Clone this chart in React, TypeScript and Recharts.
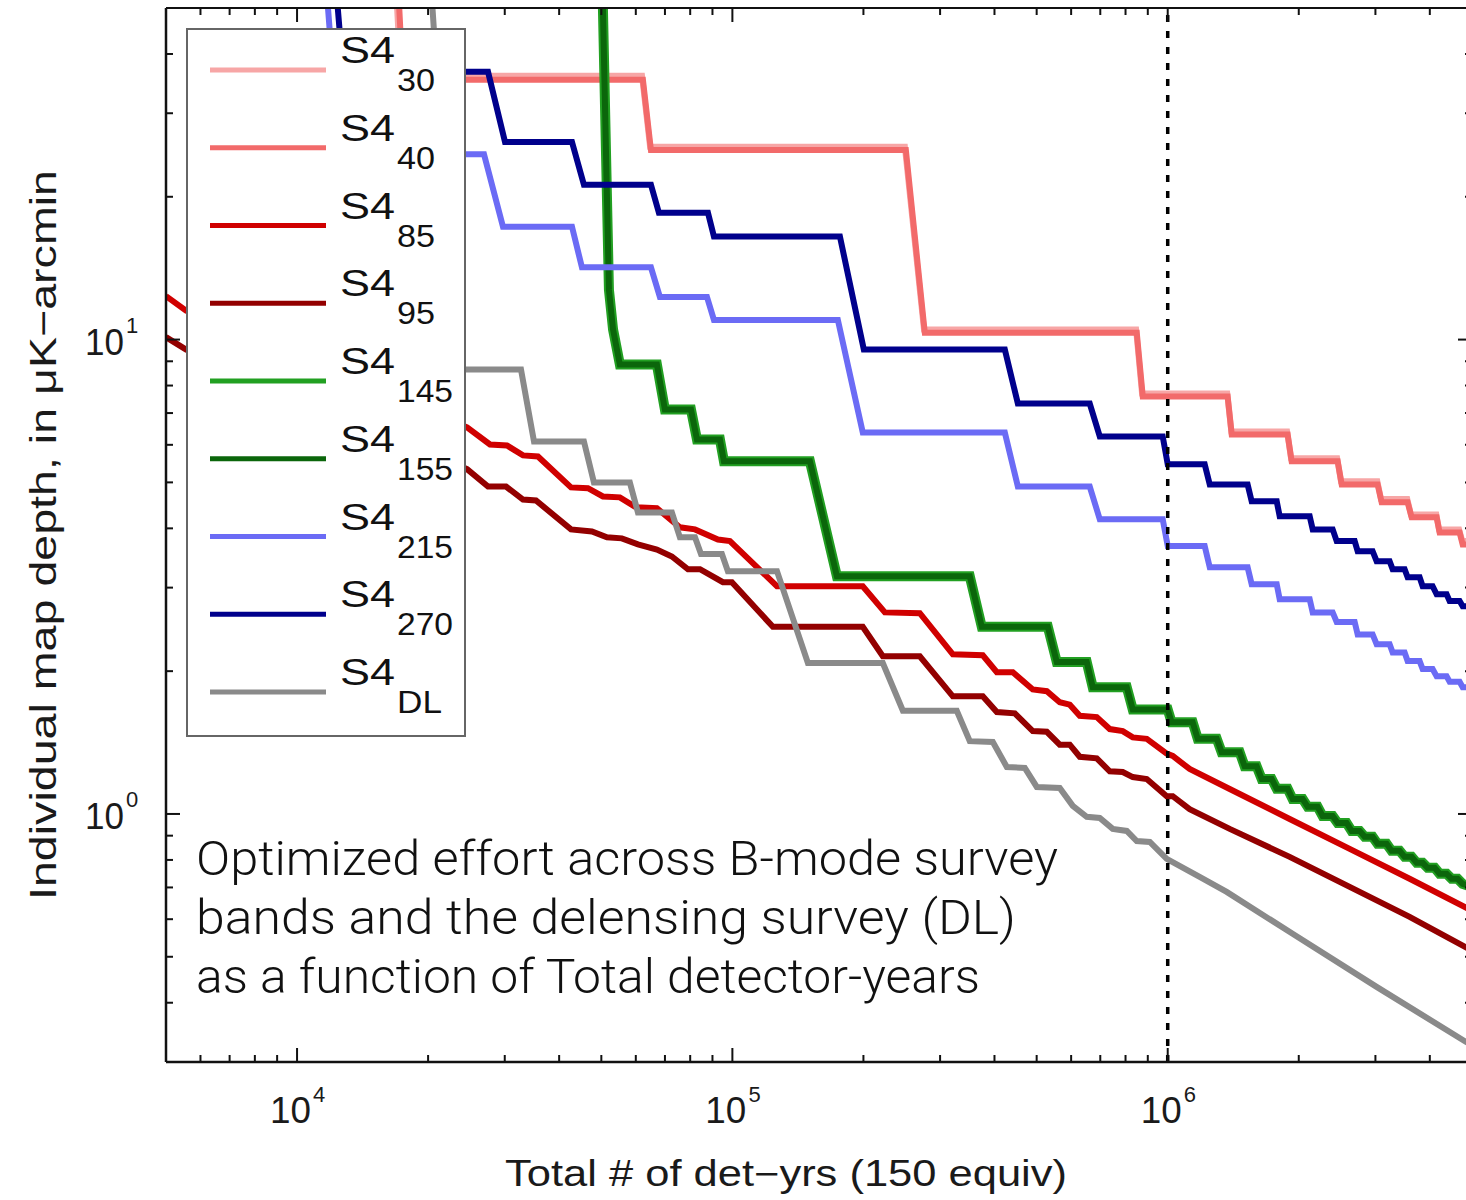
import { Legend, Line, LineChart, ReferenceLine, XAxis, YAxis } from 'recharts'

type Pt = [number, number]

// x = total det-yrs, y = map depth (uK-arcmin)
const s4_30: Pt[] = [
  [16800, 60], [17300, 36], [62000, 36], [64700, 25.5], [249000, 25.5], [275500, 10.5],
  [846000, 10.5], [873000, 7.7], [1.37e6, 7.7], [1.4e6, 6.4], [1.88e6, 6.4], [1.92e6, 5.62],
  [2.45e6, 5.62], [2.5e6, 5.03], [3.03e6, 5.03], [3.09e6, 4.61], [3.55e6, 4.61], [3.62e6, 4.28],
  [4.14e6, 4.28], [4.2e6, 3.98], [4.67e6, 3.98], [4.75e6, 3.76], [5e6, 3.76],
]

const s4_40: Pt[] = [
  [17000, 60], [17500, 35.3], [62300, 35.3], [65000, 25.1], [250300, 25.1], [276700, 10.34],
  [849000, 10.34], [876400, 7.59], [1.373e6, 7.59], [1.403e6, 6.31], [1.886e6, 6.31], [1.926e6, 5.54],
  [2.457e6, 5.54], [2.51e6, 4.95], [3.035e6, 4.95], [3.1e6, 4.54], [3.557e6, 4.54], [3.633e6, 4.22],
  [4.147e6, 4.22], [4.213e6, 3.92], [4.683e6, 3.92], [4.759e6, 3.7], [5e6, 3.7],
]

const s4_85: Pt[] = [
  [5000, 12.35], [5560, 11.51], [24580, 6.53], [27750, 6.01], [30360, 5.98], [33040, 5.7],
  [35760, 5.67], [42590, 4.88], [46580, 4.86], [50420, 4.67], [55150, 4.65], [60040, 4.43],
  [67080, 4.41], [75760, 4.02], [82050, 3.98], [92640, 3.79], [98700, 3.76], [126600, 3.02],
  [199300, 3.02], [224000, 2.66], [269500, 2.65], [320900, 2.17], [376000, 2.16], [405000, 1.99],
  [440800, 1.99], [489800, 1.83], [527600, 1.815], [564900, 1.72], [595700, 1.7], [628000, 1.61],
  [687100, 1.6], [735900, 1.51], [788300, 1.495], [831200, 1.45], [895200, 1.44], [994700, 1.34],
  [1.027e6, 1.325], [1.123e6, 1.244], [1.388e6, 1.129], [1.906e6, 0.976], [2.618e6, 0.844],
  [3.595e6, 0.73], [5e6, 0.625],
]

const s4_95: Pt[] = [
  [5000, 10.12], [5560, 9.53], [24580, 5.33], [27460, 4.9], [30200, 4.9], [33040, 4.6],
  [35390, 4.58], [42590, 3.98], [47570, 3.94], [51500, 3.83], [55740, 3.81], [60680, 3.7],
  [67080, 3.61], [72620, 3.49], [79070, 3.28], [84250, 3.28], [95110, 3.08], [99750, 3.08],
  [123900, 2.48], [199300, 2.48], [221600, 2.15], [269500, 2.15], [320900, 1.77], [376000, 1.77],
  [405000, 1.64], [445500, 1.63], [489800, 1.495], [527600, 1.49], [564900, 1.4], [595700, 1.4],
  [628000, 1.32], [687100, 1.31], [735900, 1.23], [788300, 1.226], [831200, 1.196], [895200, 1.185],
  [994700, 1.09], [1.027e6, 1.09], [1.123e6, 1.024], [1.388e6, 0.93], [1.906e6, 0.812],
  [2.618e6, 0.702], [3.595e6, 0.607], [5e6, 0.515],
]

// 145 and 155 sit on top of each other in the plot, read as one trace
const s4_145_155: Pt[] = [
  [50000, 60], [50420, 50], [52050, 12.74], [53200, 10.5], [55150, 8.86], [67080, 8.86],
  [69980, 7.12], [80330, 7.12], [82920, 6.16], [93620, 6.16], [95620, 5.54], [150700, 5.54],
  [173800, 3.17], [351000, 3.17], [374000, 2.48], [530400, 2.48], [556100, 2.09], [651600, 2.09],
  [672600, 1.85], [805200, 1.85], [831200, 1.66], [1e6, 1.66], [1.021e6, 1.56], [1.141e6, 1.56],
  [1.172e6, 1.44], [1.296e6, 1.44], [1.33e6, 1.35], [1.463e6, 1.35], [1.502e6, 1.26], [1.601e6, 1.26],
  [1.644e6, 1.185], [1.733e6, 1.185], [1.78e6, 1.13], [1.886e6, 1.13], [1.936e6, 1.075], [2.042e6, 1.075],
  [2.097e6, 1.035], [2.21e6, 1.035], [2.269e6, 0.99], [2.393e6, 0.99], [2.457e6, 0.957], [2.576e6, 0.957],
  [2.645e6, 0.921], [2.76e6, 0.921], [2.834e6, 0.895], [2.956e6, 0.895], [3.035e6, 0.865], [3.183e6, 0.865],
  [3.268e6, 0.836], [3.41e6, 0.836], [3.501e6, 0.812], [3.633e6, 0.812], [3.731e6, 0.789], [3.851e6, 0.789],
  [3.954e6, 0.77], [4.104e6, 0.77], [4.213e6, 0.748], [4.372e6, 0.748], [4.489e6, 0.73], [4.634e6, 0.73],
  [4.759e6, 0.712], [5e6, 0.702],
]

const s4_215: Pt[] = [
  [11600, 60], [12000, 40], [14000, 24.6], [26880, 24.6], [29720, 17.3], [42810, 17.3],
  [45120, 14.2], [65000, 14.2], [68150, 12.3], [87420, 12.3], [90700, 11.0], [174700, 11.0],
  [199300, 6.37], [422500, 6.37], [452600, 4.9], [662000, 4.9], [698100, 4.18], [973900, 4.18],
  [1e6, 3.67], [1.216e6, 3.67], [1.249e6, 3.31], [1.526e6, 3.31], [1.559e6, 3.05], [1.78e6, 3.05],
  [1.808e6, 2.835], [2.119e6, 2.835], [2.153e6, 2.66], [2.393e6, 2.66], [2.444e6, 2.54], [2.688e6, 2.54],
  [2.731e6, 2.39], [2.956e6, 2.39], [3.019e6, 2.28], [3.234e6, 2.28], [3.286e6, 2.19], [3.501e6, 2.19],
  [3.557e6, 2.1], [3.79e6, 2.1], [3.851e6, 2.02], [4.06e6, 2.02], [4.147e6, 1.95], [4.372e6, 1.95],
  [4.442e6, 1.9], [4.683e6, 1.9], [4.759e6, 1.85], [5e6, 1.85],
]

const s4_270: Pt[] = [
  [12200, 60], [12600, 42], [15000, 36.7], [27460, 36.7], [30040, 26.1], [42810, 26.1],
  [45600, 21.2], [65000, 21.2], [67800, 18.5], [87880, 18.5], [90700, 16.5], [176600, 16.5],
  [200400, 9.53], [422500, 9.53], [452600, 7.33], [662000, 7.33], [698100, 6.25], [973900, 6.25],
  [1e6, 5.46], [1.216e6, 5.46], [1.249e6, 4.95], [1.526e6, 4.95], [1.559e6, 4.56], [1.78e6, 4.56],
  [1.808e6, 4.24], [2.119e6, 4.24], [2.153e6, 3.98], [2.393e6, 3.98], [2.444e6, 3.76], [2.688e6, 3.76],
  [2.731e6, 3.58], [2.956e6, 3.58], [3.019e6, 3.41], [3.234e6, 3.41], [3.286e6, 3.28], [3.501e6, 3.28],
  [3.557e6, 3.155], [3.79e6, 3.155], [3.851e6, 3.02], [4.06e6, 3.02], [4.147e6, 2.905], [4.372e6, 2.905],
  [4.442e6, 2.81], [4.683e6, 2.81], [4.759e6, 2.74], [5e6, 2.74],
]

const s4_DL: Pt[] = [
  [20200, 60], [20800, 40], [22000, 8.65], [32690, 8.65], [35020, 6.1], [45600, 6.1],
  [48080, 5.0], [58140, 5.0], [60680, 4.32], [72620, 4.32], [75760, 3.83], [82050, 3.83],
  [84700, 3.53], [94610, 3.53], [97650, 3.25], [126600, 3.25], [149100, 2.08], [221600, 2.08],
  [246400, 1.65], [327700, 1.65], [351000, 1.424], [396500, 1.418], [427000, 1.256], [469600, 1.25],
  [500300, 1.14], [564900, 1.134], [605200, 1.04], [651600, 0.986], [698100, 0.981], [747700, 0.93],
  [805200, 0.921], [849000, 0.877], [909600, 0.873], [994700, 0.804], [1.184e6, 0.737], [1.366e6, 0.685],
  [1.936e6, 0.559], [3.019e6, 0.432], [4.835e6, 0.331], [5e6, 0.326],
]

const xMajors = [1e4, 1e5, 1e6]
const xExponents = ['4', '5', '6']
const xMinors = [
  6000, 7000, 8000, 9000, 2e4, 3e4, 4e4, 5e4, 6e4, 7e4, 8e4, 9e4,
  2e5, 3e5, 4e5, 5e5, 6e5, 7e5, 8e5, 9e5, 2e6, 3e6, 4e6,
]
const yMajors = [1, 10]
const yExponents = ['0', '1']
const yMinors = [0.4, 0.5, 0.6, 0.7, 0.8, 0.9, 2, 3, 4, 5, 6, 7, 8, 9, 20, 30, 40]

const xTicks = [...xMinors, ...xMajors].sort((a, b) => a - b)
const yTicks = [...yMinors, ...yMajors].sort((a, b) => a - b)

const dlYear = 1e6

const annotationLines = [
  'Optimized effort across B-mode survey',
  'bands and the delensing survey (DL)',
  'as a function of Total detector-years',
]

const FONT = '"Liberation Sans", Arial, Helvetica, sans-serif'
const INK = '#111'

const series = [
  { key: 's4_30', sub: '30', color: '#f7a6a6', width: 6, pts: s4_30 },
  { key: 's4_40', sub: '40', color: '#f26a6a', width: 6, pts: s4_40 },
  { key: 's4_85', sub: '85', color: '#d00000', width: 6, pts: s4_85 },
  { key: 's4_95', sub: '95', color: '#930000', width: 6, pts: s4_95 },
  { key: 's4_145', sub: '145', color: '#22a022', width: 10, pts: s4_145_155 },
  { key: 's4_155', sub: '155', color: '#0b660b', width: 6, pts: s4_145_155 },
  { key: 's4_215', sub: '215', color: '#6b6bf5', width: 6, pts: s4_215 },
  { key: 's4_270', sub: '270', color: '#00008c', width: 6, pts: s4_270 },
  { key: 's4_DL', sub: 'DL', color: '#8a8a8a', width: 6, pts: s4_DL },
]

const toRows = (pts: Pt[]) => pts.map(([x, y]) => ({ x, y }))

const tickLen = (major: boolean) => (major ? 14 : 7)

function BottomTick({ x, y, payload }: any) {
  const i = xMajors.indexOf(payload.value)
  return (
    <g>
      <line x1={x} x2={x} y1={y} y2={y - tickLen(i >= 0)} stroke={INK} strokeWidth={2} />
      {i >= 0 && (
        <g fill="#1a1a1a" fontFamily={FONT}>
          <text x={x - 27} y={y + 61} fontSize={36} textLength={41} lengthAdjust="spacingAndGlyphs">10</text>
          <text x={x + 16} y={y + 40} fontSize={22}>{xExponents[i]}</text>
        </g>
      )}
    </g>
  )
}

function TopTick({ x, y, payload }: any) {
  const major = xMajors.includes(payload.value)
  return <line x1={x} x2={x} y1={y} y2={y + tickLen(major)} stroke={INK} strokeWidth={2} />
}

function LeftTick({ x, y, payload }: any) {
  const i = yMajors.indexOf(payload.value)
  return (
    <g>
      <line x1={x} x2={x + tickLen(i >= 0)} y1={y} y2={y} stroke={INK} strokeWidth={2} />
      {i >= 0 && (
        <g fill="#1a1a1a" fontFamily={FONT}>
          <text x={x - 81} y={y + 15} fontSize={36} textLength={39} lengthAdjust="spacingAndGlyphs">10</text>
          <text x={x - 40} y={y - 7} fontSize={22}>{yExponents[i]}</text>
        </g>
      )}
    </g>
  )
}

function RightTick({ x, y, payload }: any) {
  const major = yMajors.includes(payload.value)
  return <line x1={x} x2={x - tickLen(major)} y1={y} y2={y} stroke={INK} strokeWidth={2} />
}

function LegendBox() {
  return (
    <svg width={280} height={709} style={{ display: 'block' }}>
      <rect x={1} y={1} width={278} height={707} fill="#fff" stroke="#666" strokeWidth={2} />
      {series.map((s, i) => {
        const cy = 42 + i * 77.75
        const subWidth = s.sub.length === 3 ? 56 : s.sub === 'DL' ? 45 : 38
        return (
          <g key={s.key} fill={INK} fontFamily={FONT}>
            <line x1={24} x2={140} y1={cy} y2={cy} stroke={s.color} strokeWidth={5} />
            <text x={154} y={cy - 7} fontSize={37} textLength={55} lengthAdjust="spacingAndGlyphs">S4</text>
            <text x={211} y={cy + 21} fontSize={32} textLength={subWidth} lengthAdjust="spacingAndGlyphs">{s.sub}</text>
          </g>
        )
      })}
    </svg>
  )
}

export default function App() {
  return (
    <div style={{ position: 'absolute', left: 0, top: 0, width: 1466, height: 1200, overflow: 'hidden', background: '#fff' }}>
      <LineChart width={1480} height={1200} margin={{ top: 7, right: 7, bottom: 78, left: 86 }}>
        <XAxis
          dataKey="x"
          type="number"
          scale="log"
          domain={[5000, 5e6]}
          allowDataOverflow
          ticks={xTicks}
          interval={0}
          height={60}
          tickSize={0}
          tickMargin={0}
          tickLine={false}
          axisLine={{ stroke: INK, strokeWidth: 2.5 }}
          tick={BottomTick}
        />
        <XAxis
          xAxisId="top"
          orientation="top"
          dataKey="x"
          type="number"
          scale="log"
          domain={[5000, 5e6]}
          allowDataOverflow
          ticks={xTicks}
          interval={0}
          height={1}
          tickSize={0}
          tickMargin={0}
          tickLine={false}
          axisLine={{ stroke: INK, strokeWidth: 2 }}
          tick={TopTick}
        />
        <YAxis
          type="number"
          scale="log"
          domain={[0.3, 50]}
          allowDataOverflow
          ticks={yTicks}
          interval={0}
          width={80}
          tickSize={0}
          tickMargin={0}
          tickLine={false}
          axisLine={{ stroke: INK, strokeWidth: 2.5 }}
          tick={LeftTick}
        />
        <YAxis
          yAxisId="right"
          orientation="right"
          type="number"
          scale="log"
          domain={[0.3, 50]}
          allowDataOverflow
          ticks={yTicks}
          interval={0}
          width={1}
          tickSize={0}
          tickMargin={0}
          tickLine={false}
          axisLine={{ stroke: INK, strokeWidth: 2 }}
          tick={RightTick}
        />
        {series.map((s) => (
          <Line
            key={s.key}
            data={toRows(s.pts)}
            dataKey="y"
            name={s.key}
            type="linear"
            stroke={s.color}
            strokeWidth={s.width}
            dot={false}
            activeDot={false}
            isAnimationActive={false}
          />
        ))}
        <ReferenceLine x={dlYear} stroke="#000" strokeWidth={3.5} strokeDasharray="7 9" />
        <Legend
          layout="vertical"
          align="center"
          verticalAlign="middle"
          wrapperStyle={{ left: 186, top: 28, width: 280, height: 709 }}
          content={() => <LegendBox />}
        />
      </LineChart>
      <svg
        width={1466}
        height={1200}
        style={{ position: 'absolute', left: 0, top: 0, pointerEvents: 'none' }}
      >
        <g fill={INK} fontFamily='Roboto, "Open Sans", sans-serif' fontWeight={300} fontSize={48}>
          {annotationLines.map((line, i) => (
            <text key={i} x={196} y={875 + i * 59} textLength={[862, 820, 784][i]} lengthAdjust="spacingAndGlyphs">
              {line}
            </text>
          ))}
        </g>
        <text x={786} y={1186} textAnchor="middle" fontFamily={FONT} fontSize={36} fill="#1a1a1a" textLength={562} lengthAdjust="spacingAndGlyphs">
          Total # of det−yrs (150 equiv)
        </text>
        <text
          transform="translate(56,535) rotate(-90)"
          textAnchor="middle"
          fontFamily={FONT}
          fontSize={37}
          fill="#1a1a1a"
          textLength={730}
          lengthAdjust="spacingAndGlyphs"
        >
          Individual map depth, in μK−arcmin
        </text>
      </svg>
    </div>
  )
}
